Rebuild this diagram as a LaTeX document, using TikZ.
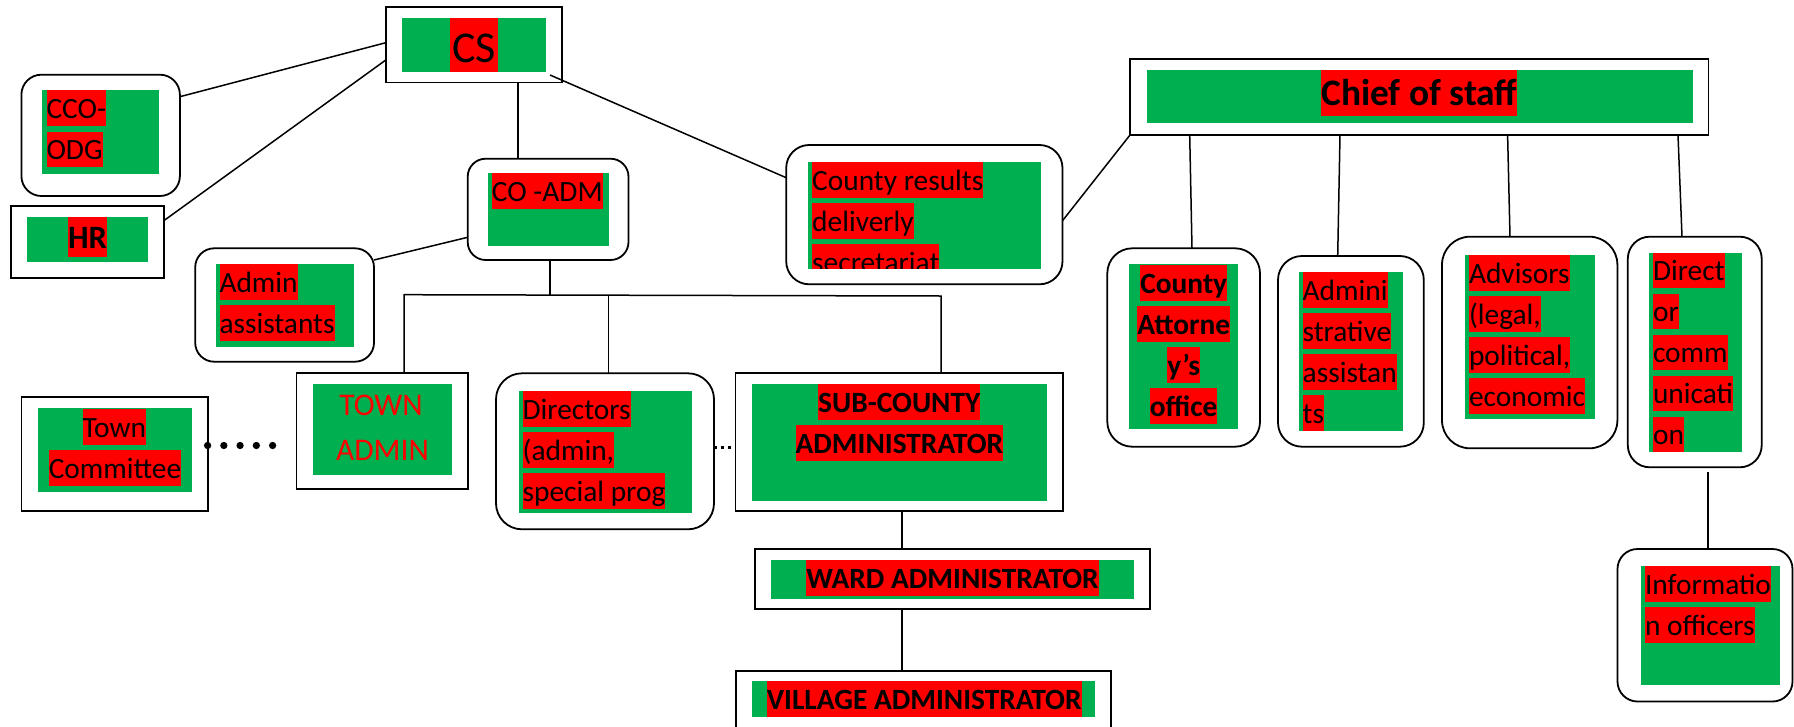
\documentclass[tikz,border=0pt]{standalone}
\usepackage{fontspec}
\setmainfont{Carlito}
\definecolor{wgreen}{HTML}{00B050}
\definecolor{wred}{HTML}{FF0000}
\tikzset{
  sq/.style={draw=black, line width=1.8pt, inner sep=0pt, outer sep=0pt, anchor=north west},
  rd/.style={sq, rounded corners=#1},
  gf/.style={fill=wgreen},
  hl/.style={fill=wred, inner sep=0pt, outer sep=0pt, text=black,
    font=\fontsize{29.4}{35}\selectfont, text height=28pt, text depth=7.7pt},
  hlb/.style={hl, font=\fontsize{29.4}{35}\selectfont\bfseries},
  conn/.style={line width=1.5pt, draw=black},
}
\newcommand\obox[6]{\node[#6, minimum width=#4pt, minimum height=#5pt] (#1) at (#2,#3) {};}
\begin{document}
\begin{tikzpicture}[x=1pt,y=-1pt]
\useasboundingbox (0,0) rectangle (1794,726);

% ---------- outer boxes ----------
\obox{cs}{385.8}{6.7}{176.2}{75.8}{sq}
\obox{cco}{21.4}{74.7}{158.5}{121.3}{rd=20pt}
\obox{hr}{10.7}{206}{153.1}{72.3}{sq}
\obox{coadm}{467.7}{158.7}{160.8}{101.3}{rd=18pt}
\obox{admin}{195.2}{248.3}{178.8}{113.4}{rd=19pt}
\obox{crds}{786.2}{145}{276.3}{139.3}{rd=23pt}
\obox{tc}{21.5}{397.3}{186.1}{113.7}{sq}
\obox{ta}{296.5}{373.3}{171.3}{115.4}{sq}
\obox{dir}{496}{373.3}{218}{156}{rd=26pt}
\obox{sub}{735.5}{373.3}{327.3}{137.4}{sq}
\obox{ward}{754.7}{549.3}{395.3}{59.7}{sq}
\obox{vil}{735.7}{670.7}{375.6}{70}{sq}
\obox{cos}{1130}{59}{578.4}{76}{sq}
\obox{ca}{1107.3}{248.3}{152.7}{198.4}{rd=25pt}
\obox{adm2}{1278}{256}{145.8}{190.7}{rd=24pt}
\obox{adv}{1442}{236.7}{175.4}{211.6}{rd=28pt}
\obox{dcom}{1627.8}{236.7}{133.9}{230.6}{rd=22pt}
\obox{info}{1617.5}{549}{175}{152.5}{rd=20pt}

% ---------- green fills ----------
\fill[gf] (402,18) rectangle (545.7,71.7);
\fill[gf] (42,90) rectangle (159,173.7);
\fill[gf] (27,217) rectangle (148,261.7);
\fill[gf] (488,173) rectangle (609,245.7);
\fill[gf] (216.2,264) rectangle (354,346.7);
\fill[gf] (808,162) rectangle (1040.6,268.7);
\fill[gf] (37.8,408) rectangle (191.8,491.7);
\fill[gf] (312.8,384) rectangle (452,474.7);
\fill[gf] (519,391.3) rectangle (692,512.7);
\fill[gf] (752,384) rectangle (1047.2,500.7);
\fill[gf] (771,560) rectangle (1133.7,598.7);
\fill[gf] (752,681) rectangle (1095,716.7);
\fill[gf] (1147,70) rectangle (1693,122.7);
\fill[gf] (1129,264) rectangle (1238,429.3);
\fill[gf] (1299,272) rectangle (1402.9,430.7);
\fill[gf] (1465.2,255) rectangle (1595,419.3);
\fill[gf] (1649.2,252.7) rectangle (1741.6,451.7);
\fill[gf] (1641,566) rectangle (1780,684.7);

% ---------- texts ----------
\node[hl, font=\fontsize{44}{50}\selectfont, text height=44.7pt, text depth=9pt, minimum width=48pt, anchor=north] (cs-t) at (474,18) {CS};
\node[hl, anchor=north west] (cco-t1) at (46.5,90) {CCO-};
\node[hl, anchor=north west] (cco-t2) at (46.5,131.5) {ODG};
\node[hl, font=\fontsize{32.6}{38}\selectfont\bfseries, text height=31.1pt, text depth=8.6pt, anchor=north] (hr-t) at (87.5,217) {HR};
\node[hl, anchor=north west] (coadm-t) at (491.9,173) {CO -ADM};
\node[hl, anchor=north west] (admin-t1) at (219.5,264) {Admin};
\node[hl, anchor=north west] (admin-t2) at (219.5,305) {assistants};
\begin{scope}
  \clip (808,162) rectangle (1040.6,268.7);
  \node[hl, anchor=north west] (crds-t1) at (812.2,162) {County results};
  \node[hl, anchor=north west] (crds-t2) at (812.2,203) {deliverly};
  \node[hl, anchor=north west] (crds-t3) at (812.2,244) {secretariat};
\end{scope}
\node[hl, anchor=north] (tc-t1) at (114.3,409.3) {Town};
\node[hl, anchor=north] (tc-t2) at (115,450) {Committee};
\node[font=\fontsize{31.5}{36}\selectfont, text=wred, inner sep=0pt, anchor=base] (ta-t1) at (381,415) {TOWN};
\node[font=\fontsize{31.5}{36}\selectfont, text=wred, inner sep=0pt, anchor=base] (ta-t2) at (382.5,460) {ADMIN};
\node[hl, anchor=north west] (dir-t1) at (522.6,391.3) {Directors};
\node[hl, anchor=north west] (dir-t2) at (522.6,432.3) {(admin,};
\node[hl, anchor=north west] (dir-t3) at (522.6,473.3) {special prog};
\node[hlb, anchor=north] (sub-t1) at (899.3,384) {SUB-COUNTY};
\node[hlb, anchor=north] (sub-t2) at (899.4,425) {ADMINISTRATOR};
\node[hlb, anchor=north] (ward-t) at (952.5,560) {WARD ADMINISTRATOR};
\node[hlb, anchor=north] (vil-t) at (924.2,681) {VILLAGE ADMINISTRATOR};
\node[hl, font=\fontsize{37.4}{44}\selectfont\bfseries, text height=35.9pt, text depth=9.8pt, anchor=north] (cos-t) at (1419.3,70) {Chief of staff};
\node[hlb, anchor=north] (ca-t1) at (1183.7,265) {County};
\node[hlb, anchor=north] (ca-t2) at (1183.7,306) {Attorne};
\node[hlb, anchor=north] (ca-t3) at (1183.7,347) {y’s};
\node[hlb, anchor=north] (ca-t4) at (1183.7,388) {office};
\node[hl, anchor=north west] (adm2-t1) at (1302.7,272) {Admini};
\node[hl, anchor=north west] (adm2-t2) at (1302.7,313) {strative};
\node[hl, anchor=north west] (adm2-t3) at (1302.7,354) {assistan};
\node[hl, anchor=north west] (adm2-t4) at (1302.7,395) {ts};
\node[hl, anchor=north west] (adv-t1) at (1469,255) {Advisors};
\node[hl, anchor=north west] (adv-t2) at (1469,296) {(legal,};
\node[hl, anchor=north west] (adv-t3) at (1469,337) {political,};
\node[hl, anchor=north west] (adv-t4) at (1469,378) {economic};
\node[hl, anchor=north west] (dcom-t1) at (1653,252.7) {Direct};
\node[hl, anchor=north west] (dcom-t2) at (1653,293.7) {or};
\node[hl, anchor=north west] (dcom-t3) at (1653,334.7) {comm};
\node[hl, anchor=north west] (dcom-t4) at (1653,375.7) {unicati};
\node[hl, anchor=north west] (dcom-t5) at (1653,416.7) {on};
\node[hl, anchor=north west] (info-t1) at (1645,566) {Informatio};
\node[hl, anchor=north west] (info-t2) at (1645,607) {n officers};

% ---------- connectors ----------
\coordinate (csx) at (550,75);
\coordinate (bl) at (404.2,294.7);
\coordinate (br) at (941.2,296);
\coordinate (bd) at (608.4,295.4);
\draw[conn] (cs.west |- 0,42.7) -- (cco.east |- 0,96.7);
\draw[conn] (cs.west |- 0,60) -- (hr.east |- 0,220.7);
\draw[conn] (cs.south -| 517.8,0) -- (coadm.north -| 517.8,0);
\draw[conn] (csx) -- (crds.west |- 0,177.7);
\draw[conn] (crds.east |- 0,220.7) -- (cos.south west);
\draw[conn] (cos.south -| 1189.7,0) -- (ca.north -| 1192,0);
\draw[conn] (cos.south -| 1340,0) -- (adm2.north -| 1337.7,0);
\draw[conn] (cos.south -| 1507.6,0) -- (adv.north -| 1510,0);
\draw[conn] (cos.south -| 1678,0) -- (dcom.north -| 1682,0);
\draw[conn] ([yshift=-4.4pt]dcom.south -| 1708,0) -- (info.north -| 1708,0);
\draw[conn] (coadm.west |- 0,237.3) -- (admin.east |- 0,260);
\draw[conn] (coadm.south -| 550,0) -- (bl -| 550,0);
\draw[conn] (ta.north -| bl) -- (bl) -- (br) -- (sub.north -| br);
\draw[conn] (bd) -- (dir.north -| bd);
\draw[conn] (sub.south -| 902,0) -- (ward.north -| 902,0);
\draw[conn] (ward.south -| 902,0) -- (vil.north -| 902,0);
\draw[line width=7.3pt, line cap=round, dash pattern=on 0pt off 16.25pt] (tc.east |- 0,445.5) -- ++(66,0);
\draw[line width=3pt, dash pattern=on 3pt off 4pt] (dir.east |- 0,447) -- (sub.west |- 0,447);
\end{tikzpicture}
\end{document}
